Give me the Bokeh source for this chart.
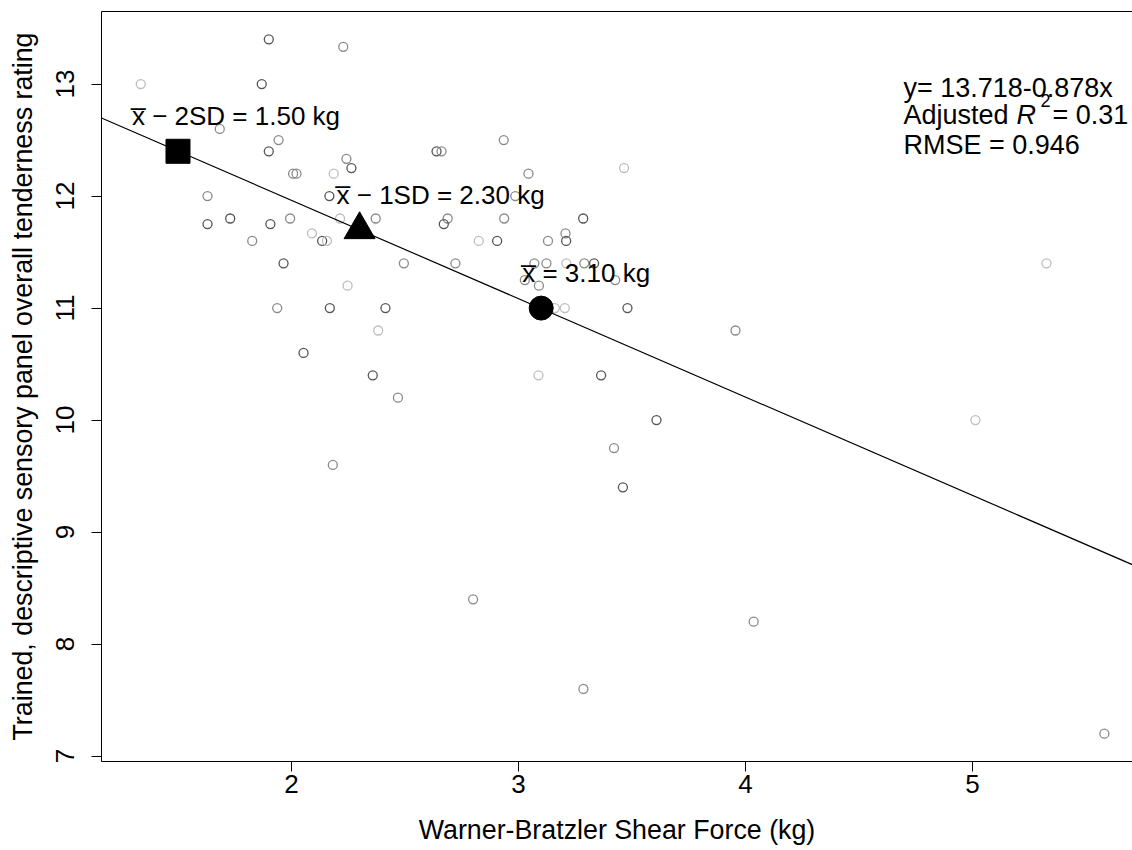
from bokeh.plotting import figure
from bokeh.models import LinearAxis, FixedTicker, Range1d, ColumnDataSource
from bokeh.core.properties import value
from bokeh.embed import file_html
from bokeh.resources import INLINE

# ---- data ----
wbsf = [1.336, 1.900, 2.228, 1.869, 1.684, 1.943, 1.900, 2.242, 2.264, 2.007,
        2.022, 2.186, 1.630, 2.167, 1.630, 1.730, 1.907, 1.994, 2.214, 2.371,
        2.090, 1.827, 2.135, 2.156, 1.965, 2.247, 1.937, 2.169, 2.414, 2.382,
        2.053, 2.358, 2.469, 2.182, 2.495, 2.935, 2.639, 2.661, 3.044, 3.465,
        2.986, 2.688, 2.671, 2.937, 3.285, 2.825, 2.906, 3.130, 3.207, 3.210,
        2.722, 3.070, 3.123, 3.211, 3.290, 3.333, 3.028, 3.090, 3.426, 3.160,
        3.204, 3.480, 3.956, 3.088, 3.364, 3.608, 3.421, 3.460, 2.800, 5.013,
        5.326, 3.286, 4.036, 5.581]
tenderness = [13.00, 13.40, 13.333, 13.00, 12.60, 12.50, 12.40, 12.333, 12.25, 12.20,
              12.20, 12.20, 12.00, 12.00, 11.75, 11.80, 11.75, 11.80, 11.80, 11.80,
              11.667, 11.60, 11.60, 11.60, 11.40, 11.20, 11.00, 11.00, 11.00, 10.80,
              10.60, 10.40, 10.20, 9.60, 11.40, 12.50, 12.40, 12.40, 12.20, 12.25,
              12.00, 11.80, 11.75, 11.80, 11.80, 11.60, 11.60, 11.60, 11.667, 11.60,
              11.40, 11.40, 11.40, 11.40, 11.40, 11.40, 11.25, 11.20, 11.25, 11.00,
              11.00, 11.00, 10.80, 10.40, 10.40, 10.00, 9.75, 9.40, 8.40, 10.00,
              11.40, 7.60, 8.20, 7.20]
tone = ["light", "dark", "medium", "dark", "medium", "medium", "dark", "medium", "dark", "medium",
        "medium", "light", "medium", "dark", "dark", "dark", "dark", "medium", "light", "medium",
        "light", "medium", "dark", "light", "dark", "light", "medium", "dark", "dark", "light",
        "dark", "dark", "medium", "medium", "medium", "medium", "dark", "medium", "medium", "light",
        "medium", "medium", "dark", "medium", "dark", "light", "dark", "medium", "medium", "dark",
        "medium", "medium", "medium", "light", "medium", "dark", "medium", "medium", "medium", "light",
        "light", "dark", "medium", "light", "dark", "dark", "medium", "dark", "medium", "light",
        "light", "medium", "medium", "medium"]

intercept = 13.718
slope = -0.878
adj_r2 = 0.31
rmse = 0.946

ref_x = [1.50, 2.30, 3.10]
ref_y = [12.40, 11.70, 11.00]
ref_labels = ["x\u0305 \u2212 2SD = 1.50 kg", "x\u0305 \u2212 1SD = 2.30 kg", "x\u0305 = 3.10 kg"]

x_ticks = [2, 3, 4, 5]
y_ticks = [7, 8, 9, 10, 11, 12, 13]

x_title = "Warner-Bratzler Shear Force (kg)"
y_title = "Trained, descriptive sensory panel overall tenderness rating"

FONT = "Liberation Sans"
tone_color = {"dark": "#555555", "medium": "#8a8a8a", "light": "#bdbdbd"}
DY = -8  # baseline correction for text glyphs

x0, x1 = 1.163, 5.705
p = figure(width=1132, height=850, x_range=Range1d(x0, x1), y_range=Range1d(6.952, 13.648),
           output_backend="svg", toolbar_location=None,
           min_border_left=101, min_border_right=0, min_border_top=11, min_border_bottom=89)
p.grid.visible = False
p.outline_line_color = None
p.background_fill_color = "white"
p.border_fill_color = "white"

p.xaxis.ticker = FixedTicker(ticks=x_ticks)
p.yaxis.ticker = FixedTicker(ticks=y_ticks)
p.xaxis.axis_label = x_title
p.yaxis.axis_label = y_title
for ax in (p.xaxis[0], p.yaxis[0]):
    ax.axis_line_color = "black"
    ax.axis_line_width = 1
    ax.major_tick_line_color = "black"
    ax.major_tick_out = 10
    ax.major_tick_in = 0
    ax.minor_tick_line_color = None
    ax.major_label_text_font = FONT
    ax.major_label_text_font_size = "26px"
    ax.major_label_text_color = "black"
    ax.axis_label_text_font = FONT
    ax.axis_label_text_font_size = "26.8px"
    ax.axis_label_text_font_style = "normal"
    ax.axis_label_text_color = "black"
p.xaxis.major_label_standoff = 3
p.xaxis.axis_label_standoff = 19
p.yaxis.major_label_orientation = "vertical"
p.yaxis.major_label_standoff = 17
p.yaxis.axis_label_standoff = 16

top = LinearAxis(ticker=FixedTicker(ticks=[]), major_label_text_font_size="0px",
                 axis_line_color="black", major_tick_out=0, major_tick_in=0,
                 major_label_standoff=0, minor_tick_line_color=None, major_tick_line_color=None)
p.add_layout(top, "above")

# data points
src = ColumnDataSource(dict(x=wbsf, y=tenderness, c=[tone_color[t] for t in tone]))
p.scatter("x", "y", source=src, marker="circle", size=9, fill_color=None,
          line_color="c", line_width=1.3)

# regression line across the plotted range
p.line([x0, x1], [intercept + slope * x0, intercept + slope * x1], line_color="black", line_width=1.2)

# reference markers
p.scatter([ref_x[0]], [ref_y[0]], marker="square", size=24, color="black")
p.scatter([ref_x[1]], [ref_y[1]], marker="triangle", size=31, color="black")
p.scatter([ref_x[2]], [ref_y[2]], marker="circle", size=24, color="black")

offs = [58, 81, 45]
for i in range(3):
    p.text([ref_x[i]], [ref_y[i]], text=[ref_labels[i]], x_offset=offs[i], y_offset=-27 + DY,
           text_align="center", text_baseline="alphabetic", text_font=value(FONT),
           text_font_size="26px", text_color="black")

# regression statistics
sx = 4.696
common = dict(text_align="left", text_baseline="alphabetic", text_font=value(FONT), text_color="black")
p.text([sx], [12.893], text=["y= %.3f-%.3fx" % (intercept, -slope)], y_offset=DY,
       text_font_size="27px", **common)
p.text([sx], [12.649], text=["Adjusted "], y_offset=DY, text_font_size="27px", **common)
p.text([sx], [12.649], text=["R"], x_offset=113, y_offset=DY, text_font_size="27px",
       text_font_style="italic", **common)
p.text([sx], [12.649], text=["2"], x_offset=137, y_offset=-15 + DY, text_font_size="18px", **common)
p.text([sx], [12.649], text=[" = %.2f" % adj_r2], x_offset=149, y_offset=DY,
       text_font_size="27px", **common)
p.text([sx], [12.387], text=["RMSE = %.3f" % rmse], y_offset=DY, text_font_size="27px", **common)

open("out.html", "w").write(file_html(p, INLINE))
